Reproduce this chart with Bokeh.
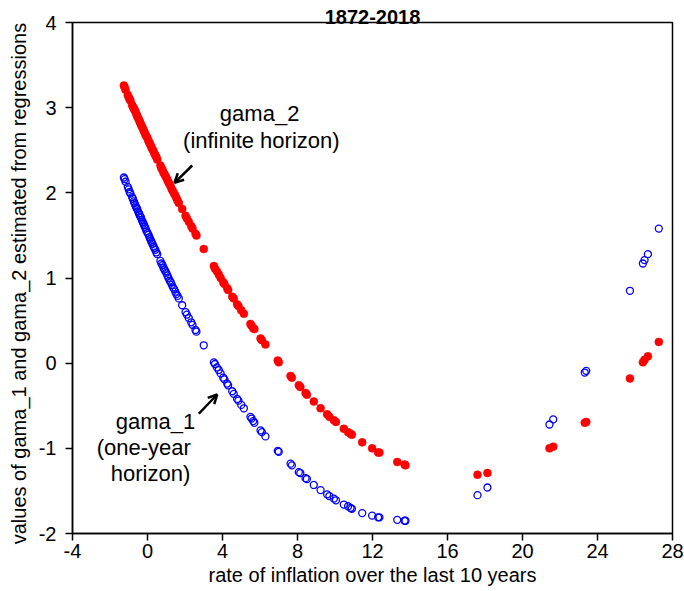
import math
from bokeh.plotting import figure
from bokeh.models import ColumnDataSource, FixedTicker, Label, Arrow, OpenHead
from bokeh.embed import file_html
from bokeh.resources import INLINE

# rate of inflation over the last 10 years (shared by both series)
inflation = [-1.26, -1.22, -1.17, -1.05, -1.00, -0.95, -0.91, -0.82, -0.78, -0.73,
             -0.70, -0.66, -0.62, -0.58, -0.55, -0.50, -0.46, -0.42, -0.38, -0.35,
             -0.30, -0.26, -0.22, -0.18, -0.14, -0.10, -0.05, 0.00, 0.05, 0.10,
             0.14, 0.18, 0.22, 0.27, 0.32, 0.37, 0.42, 0.47, 0.52,
             0.69, 0.74, 0.80, 0.85, 0.90, 0.95, 1.00, 1.06, 1.12, 1.18,
             1.24, 1.30, 1.36, 1.42, 1.48, 1.54, 1.60, 1.67,
             1.85, 2.03, 2.10, 2.20, 2.33, 2.40, 2.56, 2.61, 3.00,
             3.54, 3.60, 3.70, 3.80, 3.90, 4.04, 4.10, 4.25, 4.30,
             4.52, 4.60, 4.78, 4.85, 5.00, 5.14,
             5.49, 5.55, 5.64, 5.70,
             6.03, 6.10, 6.29,
             6.95, 7.00, 7.63, 7.70,
             8.07, 8.15, 8.43, 8.50, 8.87,
             9.23, 9.58, 9.70, 9.94, 10.05,
             10.47, 10.70, 10.83, 10.90,
             11.45, 11.98, 12.30, 12.37,
             13.32, 13.71, 13.76,
             17.60, 18.13, 21.44, 21.64, 23.32, 23.40, 25.73, 26.42, 26.51, 26.69, 27.27]

# gama_1 (one-year horizon)
gama_1 = [2.18, 2.16, 2.13, 2.07, 2.04, 2.01, 1.99, 1.95, 1.93, 1.90,
          1.88, 1.86, 1.84, 1.82, 1.81, 1.78, 1.76, 1.74, 1.72, 1.71,
          1.68, 1.66, 1.64, 1.62, 1.60, 1.58, 1.55, 1.53, 1.51, 1.48,
          1.46, 1.44, 1.42, 1.40, 1.37, 1.35, 1.33, 1.30, 1.28,
          1.20, 1.17, 1.15, 1.12, 1.10, 1.08, 1.06, 1.03, 1.00, 0.97,
          0.95, 0.92, 0.89, 0.87, 0.84, 0.81, 0.79, 0.76,
          0.68, 0.60, 0.57, 0.53, 0.48, 0.45, 0.39, 0.37, 0.21,
          0.01, -0.01, -0.05, -0.08, -0.12, -0.17, -0.19, -0.24, -0.26,
          -0.33, -0.36, -0.42, -0.44, -0.49, -0.53,
          -0.63, -0.65, -0.68, -0.70,
          -0.79, -0.81, -0.86,
          -1.03, -1.04, -1.18, -1.20,
          -1.28, -1.29, -1.35, -1.36, -1.43,
          -1.49, -1.54, -1.56, -1.59, -1.61,
          -1.66, -1.68, -1.70, -1.71,
          -1.76, -1.79, -1.81, -1.81,
          -1.84, -1.85, -1.85,
          -1.55, -1.46, -0.72, -0.66, -0.11, -0.09, 0.85, 1.17, 1.21, 1.28, 1.58]

# gama_2 (infinite horizon)
gama_2 = [3.26, 3.24, 3.21, 3.15, 3.12, 3.10, 3.08, 3.03, 3.01, 2.99,
          2.98, 2.96, 2.94, 2.92, 2.90, 2.88, 2.86, 2.84, 2.82, 2.80,
          2.78, 2.76, 2.74, 2.72, 2.70, 2.68, 2.66, 2.64, 2.61, 2.59,
          2.57, 2.55, 2.53, 2.51, 2.49, 2.46, 2.44, 2.42, 2.39,
          2.32, 2.29, 2.27, 2.24, 2.22, 2.20, 2.18, 2.15, 2.12, 2.10,
          2.07, 2.04, 2.02, 1.99, 1.97, 1.94, 1.91, 1.88,
          1.81, 1.73, 1.70, 1.66, 1.61, 1.58, 1.52, 1.50, 1.34,
          1.14, 1.11, 1.08, 1.04, 1.00, 0.95, 0.93, 0.88, 0.86,
          0.78, 0.76, 0.69, 0.67, 0.62, 0.58,
          0.46, 0.44, 0.41, 0.40,
          0.29, 0.27, 0.22,
          0.03, 0.01, -0.15, -0.17,
          -0.26, -0.28, -0.35, -0.37, -0.45,
          -0.53, -0.60, -0.63, -0.67, -0.69,
          -0.77, -0.81, -0.83, -0.84,
          -0.93, -1.00, -1.05, -1.05,
          -1.16, -1.19, -1.20,
          -1.31, -1.29, -1.00, -0.98, -0.70, -0.69, -0.18, 0.01, 0.04, 0.08, 0.25]

x_ticks = [-4, 0, 4, 8, 12, 16, 20, 24, 28]
y_ticks = [-2, -1, 0, 1, 2, 3, 4]
title_text = "1872-2018"
x_label = "rate of inflation over the last 10 years"
y_label = "values of gama_1  and  gama_2 estimated from regressions"
note_2 = ["gama_2", "(infinite horizon)"]
note_1 = ["gama_1", "(one-year", "horizon)"]

FONT = "Liberation Sans"

source = ColumnDataSource(dict(x=inflation, g1=gama_1, g2=gama_2))

p = figure(width=684, height=591, x_range=(-4, 28), y_range=(-2, 4),
           output_backend="svg", toolbar_location=None,
           min_border_left=72, min_border_right=12, min_border_top=22, min_border_bottom=58)
p.grid.visible = False
p.outline_line_color = "black"
p.outline_line_width = 1.5
p.outline_line_alpha = 1.0
p.background_fill_color = "white"
p.border_fill_color = "white"

p.title.text = title_text
p.title.text_font = FONT
p.title.text_font_size = "20px"
p.title.text_font_style = "bold"
p.title.text_color = "black"
p.title.align = "center"
p.title.standoff = -3

p.scatter("x", "g1", source=source, marker="circle", size=7, fill_color=None,
          line_color="#0000FF", line_width=1.3)
p.scatter("x", "g2", source=source, marker="circle", size=8, fill_color="#FF0000",
          line_color="#FF0000", line_width=0.5)

for ax, ticks in ((p.xaxis[0], x_ticks), (p.yaxis[0], y_ticks)):
    ax.ticker = FixedTicker(ticks=ticks, minor_ticks=[])
    ax.major_label_overrides = {t: str(t) for t in ticks}
    ax.major_tick_in = 0
    ax.major_tick_out = 7
    ax.minor_tick_in = 0
    ax.minor_tick_out = 0
    ax.axis_line_color = "black"
    ax.axis_line_width = 1.5
    ax.major_tick_line_color = "black"
    ax.major_tick_line_width = 1.5
    ax.major_label_text_font = FONT
    ax.major_label_text_font_size = "20px"
    ax.major_label_text_color = "black"
    ax.axis_label_text_font = FONT
    ax.axis_label_text_font_size = "20px"
    ax.axis_label_text_font_style = "normal"
    ax.axis_label_text_color = "black"
p.xaxis[0].major_label_standoff = 3
p.yaxis[0].major_label_standoff = 9
p.xaxis[0].axis_label = x_label
p.yaxis[0].axis_label = y_label
p.xaxis[0].axis_label_standoff = 3
p.yaxis[0].axis_label_standoff = 6

def lab(x, y, text):
    p.add_layout(Label(x=x, y=y, text=text, text_font=FONT, text_font_size="22px",
                       text_color="black", text_align="center", text_baseline="alphabetic"))

lab(5.98, 2.93, note_2[0])
lab(6.07, 2.615, note_2[1])
lab(0.43, -0.69, note_1[0])
lab(-0.20, -0.995, note_1[1])
lab(0.16, -1.295, note_1[2])

p.add_layout(Arrow(end=OpenHead(size=9, line_width=2.5, line_color="black"),
                   x_start=2.384, y_start=2.321, x_end=1.44, y_end=2.118,
                   line_width=2.5, line_color="black"))
p.add_layout(Arrow(end=OpenHead(size=9, line_width=2.5, line_color="black"),
                   x_start=2.736, y_start=-0.594, x_end=3.717, y_end=-0.368,
                   line_width=2.5, line_color="black"))

open("out.html", "w").write(file_html(p, INLINE))
